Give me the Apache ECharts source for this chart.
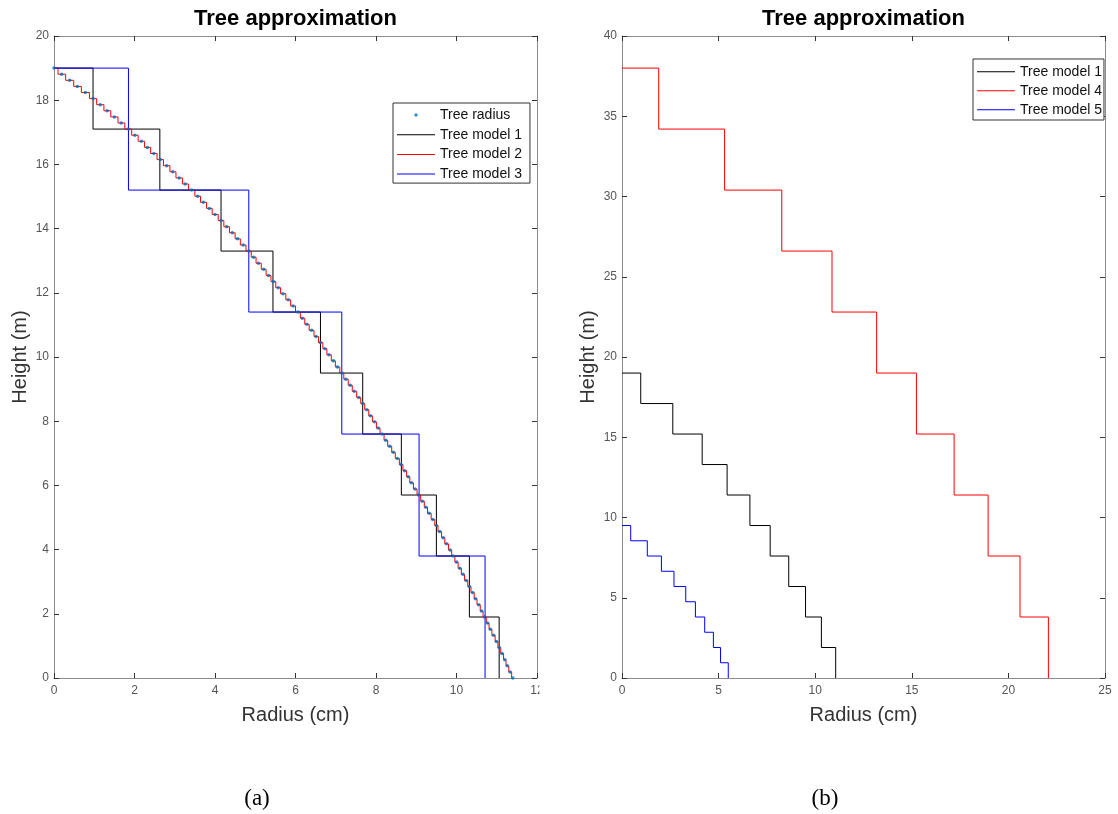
<!DOCTYPE html>
<html><head><meta charset="utf-8">
<script src="https://cdn.jsdelivr.net/npm/echarts@6/dist/echarts.min.js"></script>
<style>html,body{margin:0;padding:0;background:#fff}#c{width:1118px;height:814px}</style>
</head><body><div id="c"></div>
<script>
// ---------- data ----------
const radiusHeights = [19, 18.81, 18.62, 18.43, 18.24, 18.05, 17.86, 17.67, 17.48, 17.29,
  17.1, 16.91, 16.72, 16.53, 16.34, 16.15, 15.96, 15.77, 15.58, 15.39,
  15.2, 15.01, 14.82, 14.63, 14.44, 14.25, 14.06, 13.87, 13.68, 13.49,
  13.3, 13.11, 12.92, 12.73, 12.54, 12.35, 12.16, 11.97, 11.78, 11.59,
  11.4, 11.21, 11.02, 10.83, 10.64, 10.45, 10.26, 10.07, 9.88, 9.69,
  9.5, 9.31, 9.12, 8.93, 8.74, 8.55, 8.36, 8.17, 7.98, 7.79,
  7.6, 7.41, 7.22, 7.03, 6.84, 6.65, 6.46, 6.27, 6.08, 5.89,
  5.7, 5.51, 5.32, 5.13, 4.94, 4.75, 4.56, 4.37, 4.18, 3.99,
  3.8, 3.61, 3.42, 3.23, 3.04, 2.85, 2.66, 2.47, 2.28, 2.09,
  1.9, 1.71, 1.52, 1.33, 1.14, 0.95, 0.76, 0.57, 0.38, 0.19, 0];
const radiusValues = [0, 0.19, 0.39, 0.58, 0.78, 0.97, 1.15, 1.32, 1.50, 1.67,
  1.85, 2.01, 2.17, 2.32, 2.48, 2.64, 2.80, 2.95, 3.11, 3.26,
  3.42, 3.57, 3.71, 3.86, 4.00, 4.15, 4.29, 4.43, 4.56, 4.70,
  4.84, 4.96, 5.08, 5.21, 5.33, 5.45, 5.57, 5.69, 5.82, 5.94,
  6.06, 6.17, 6.28, 6.40, 6.51, 6.62, 6.73, 6.83, 6.94, 7.04,
  7.15, 7.25, 7.36, 7.46, 7.57, 7.67, 7.77, 7.86, 7.96, 8.05,
  8.15, 8.24, 8.34, 8.43, 8.53, 8.62, 8.71, 8.80, 8.88, 8.97,
  9.06, 9.15, 9.24, 9.32, 9.41, 9.50, 9.58, 9.67, 9.75, 9.84,
  9.92, 10.00, 10.08, 10.16, 10.24, 10.32, 10.40, 10.47, 10.55, 10.62,
  10.70, 10.77, 10.84, 10.92, 10.99, 11.06, 11.13, 11.20, 11.26, 11.33, 11.40];
const model2Radii = [0, 0.10, 0.29, 0.49, 0.68, 0.88, 1.06, 1.24, 1.41, 1.59, 1.76,
  1.93, 2.09, 2.25, 2.40, 2.56, 2.72, 2.88, 3.03, 3.19, 3.34,
  3.50, 3.64, 3.79, 3.93, 4.08, 4.22, 4.36, 4.50, 4.63, 4.77,
  4.90, 5.02, 5.15, 5.27, 5.39, 5.51, 5.63, 5.76, 5.88, 6.00,
  6.12, 6.23, 6.34, 6.46, 6.57, 6.68, 6.78, 6.89, 6.99, 7.10,
  7.20, 7.31, 7.41, 7.52, 7.62, 7.72, 7.82, 7.91, 8.01, 8.10,
  8.20, 8.29, 8.39, 8.48, 8.58, 8.67, 8.76, 8.84, 8.93, 9.02,
  9.11, 9.20, 9.28, 9.37, 9.46, 9.54, 9.63, 9.71, 9.80, 9.88,
  9.96, 10.04, 10.12, 10.20, 10.28, 10.36, 10.44, 10.51, 10.59, 10.66,
  10.74, 10.81, 10.88, 10.96, 11.03, 11.10, 11.17, 11.23, 11.30, 11.37];
const model2Heights = radiusHeights;

const model1Radii   = [0, 0.97, 2.63, 4.15, 5.44, 6.62, 7.67, 8.63, 9.50, 10.32, 11.06];
const model1Heights = [19, 17.1, 15.2, 13.3, 11.4, 9.5, 7.6, 5.7, 3.8, 1.9, 0];
const model3Radii   = [0, 1.85, 4.84, 7.15, 9.07, 10.71];
const model3Heights = [19, 15.2, 11.4, 7.6, 3.8, 0];
const model4Radii   = [0, 1.90, 5.31, 8.27, 10.87, 13.18, 15.24, 17.19, 18.95, 20.60, 22.07];
const model4Heights = [38, 34.2, 30.4, 26.6, 22.8, 19, 15.2, 11.4, 7.6, 3.8, 0];
const model5Radii   = [0, 0.45, 1.31, 2.04, 2.69, 3.30, 3.80, 4.28, 4.73, 5.10, 5.50];
const model5Heights = [9.5, 8.55, 7.6, 6.65, 5.7, 4.75, 3.8, 2.85, 1.9, 0.95, 0];

const xTicksA = [0, 2, 4, 6, 8, 10, 12];
const yTicksA = [0, 2, 4, 6, 8, 10, 12, 14, 16, 18, 20];
const xTicksB = [0, 5, 10, 15, 20, 25];
const yTicksB = [0, 5, 10, 15, 20, 25, 30, 35, 40];

// ---------- chart ----------
const FONT = '"Liberation Sans", Arial, sans-serif';
const pairs = (xs, ys) => xs.map((x, i) => [x, ys[i]]);
const range = t => ({min: t[0], max: t[t.length - 1], interval: t[1] - t[0]});

function axis(kind, grid, ticks, position, labels, name) {
  const a = Object.assign({
    type: 'value', gridIndex: grid, position: position,
    splitLine: {show: false},
    axisLine: {show: true, onZero: false, lineStyle: {color: '#8c8c8c', width: 1}},
    axisTick: {show: true, inside: true, length: 5, lineStyle: {color: '#333', width: 1}},
    axisLabel: {show: labels, color: '#555', fontSize: 12, fontFamily: FONT,
      margin: kind === 'x' ? 7 : 5},
    nameMoveOverlap: false
  }, range(ticks));
  if (name) {
    a.name = name;
    a.nameLocation = 'middle';
    a.nameTextStyle = {fontSize: 20, color: '#333', fontFamily: FONT};
    a.nameGap = kind === 'x' ? 27 : 24;
  }
  return a;
}

const dotIcon  = 'path://M0,0M38,14M17.3,7a1.7,1.7 0 1,0 3.4,0a1.7,1.7 0 1,0 -3.4,0z';
const lineIcon = 'path://M0,0M38,14M0,6.5L38,6.5L38,7.5L0,7.5Z';

function stepLine(name, xs, ys, color, xi, yi) {
  return {type: 'line', name: name, data: pairs(xs, ys), step: 'end', symbol: 'none',
    xAxisIndex: xi, yAxisIndex: yi, color: color,
    lineStyle: {color: color, width: 1}, itemStyle: {color: color},
    animation: false, silent: true, z: 3};
}

const legendBase = {
  orient: 'vertical', itemWidth: 38, itemHeight: 14, selectedMode: false,
  borderColor: '#333', borderWidth: 1, backgroundColor: '#fff', borderRadius: 0,
  textStyle: {fontSize: 14, color: '#111', fontFamily: FONT, lineHeight: 14}
};
const li = n => ({name: n, icon: lineIcon});

const option = {
  animation: false,
  backgroundColor: '#fff',
  title: [
    {text: 'Tree approximation', left: 295.5, top: 8, textAlign: 'center', padding: 0,
     textStyle: {fontSize: 22, fontWeight: 'bold', color: '#000', fontFamily: FONT}},
    {text: 'Tree approximation', left: 863.5, top: 8, textAlign: 'center', padding: 0,
     textStyle: {fontSize: 22, fontWeight: 'bold', color: '#000', fontFamily: FONT}}
  ],
  grid: [
    {left: 54, right: 581, top: 36, bottom: 136, containLabel: false, outerBoundsMode: 'none'},
    {left: 622, right: 13, top: 36, bottom: 136, containLabel: false, outerBoundsMode: 'none'}
  ],
  xAxis: [
    axis('x', 0, xTicksA, 'bottom', true, 'Radius (cm)'),
    axis('x', 0, xTicksA, 'top', false),
    axis('x', 1, xTicksB, 'bottom', true, 'Radius (cm)'),
    axis('x', 1, xTicksB, 'top', false)
  ],
  yAxis: [
    axis('y', 0, yTicksA, 'left', true, 'Height (m)'),
    axis('y', 0, yTicksA, 'right', false),
    axis('y', 1, yTicksB, 'left', true, 'Height (m)'),
    axis('y', 1, yTicksB, 'right', false)
  ],
  legend: [
    Object.assign({}, legendBase, {left: 393, top: 103, itemGap: 5.7, padding: [5, 8, 2, 4],
      data: [{name: 'Tree radius', icon: dotIcon}, li('Tree model 1'), li('Tree model 2'), li('Tree model 3')]}),
    Object.assign({}, legendBase, {left: 973, top: 59, itemGap: 5, padding: [5.7, 2, 3.3, 4],
      data: [li('Tree model 1'), li('Tree model 4'), li('Tree model 5')]})
  ],
  series: [
    {type: 'scatter', name: 'Tree radius', data: pairs(radiusValues, radiusHeights),
     xAxisIndex: 0, yAxisIndex: 0, symbol: 'circle', symbolSize: 3.5,
     itemStyle: {color: '#0072BD'}, color: '#0072BD', z: 5, silent: true},
    stepLine('Tree model 1', model1Radii, model1Heights, '#000000', 0, 0),
    stepLine('Tree model 2', model2Radii, model2Heights, '#ff0000', 0, 0),
    stepLine('Tree model 3', model3Radii, model3Heights, '#0000ff', 0, 0),
    stepLine('Tree model 1', model1Radii, model1Heights, '#000000', 2, 2),
    stepLine('Tree model 4', model4Radii, model4Heights, '#ff0000', 2, 2),
    stepLine('Tree model 5', model5Radii, model5Heights, '#0000ff', 2, 2)
  ],
  graphic: [
    {type: 'rect', shape: {x: 539.5, y: 681, width: 30, height: 22}, style: {fill: '#fff'}, z: 100},
    {type: 'text', x: 257, y: 799, z: 100,
     style: {text: '(a)', fill: '#000', font: '23px "Liberation Serif", "DejaVu Serif", serif',
       textAlign: 'center', textVerticalAlign: 'middle', align: 'center', verticalAlign: 'middle'}},
    {type: 'text', x: 825, y: 799, z: 100,
     style: {text: '(b)', fill: '#000', font: '23px "Liberation Serif", "DejaVu Serif", serif',
       textAlign: 'center', textVerticalAlign: 'middle', align: 'center', verticalAlign: 'middle'}}
  ]
};

const chart = echarts.init(document.getElementById('c'), null, {renderer: 'canvas'});
chart.setOption(option);
</script>
</body></html>
